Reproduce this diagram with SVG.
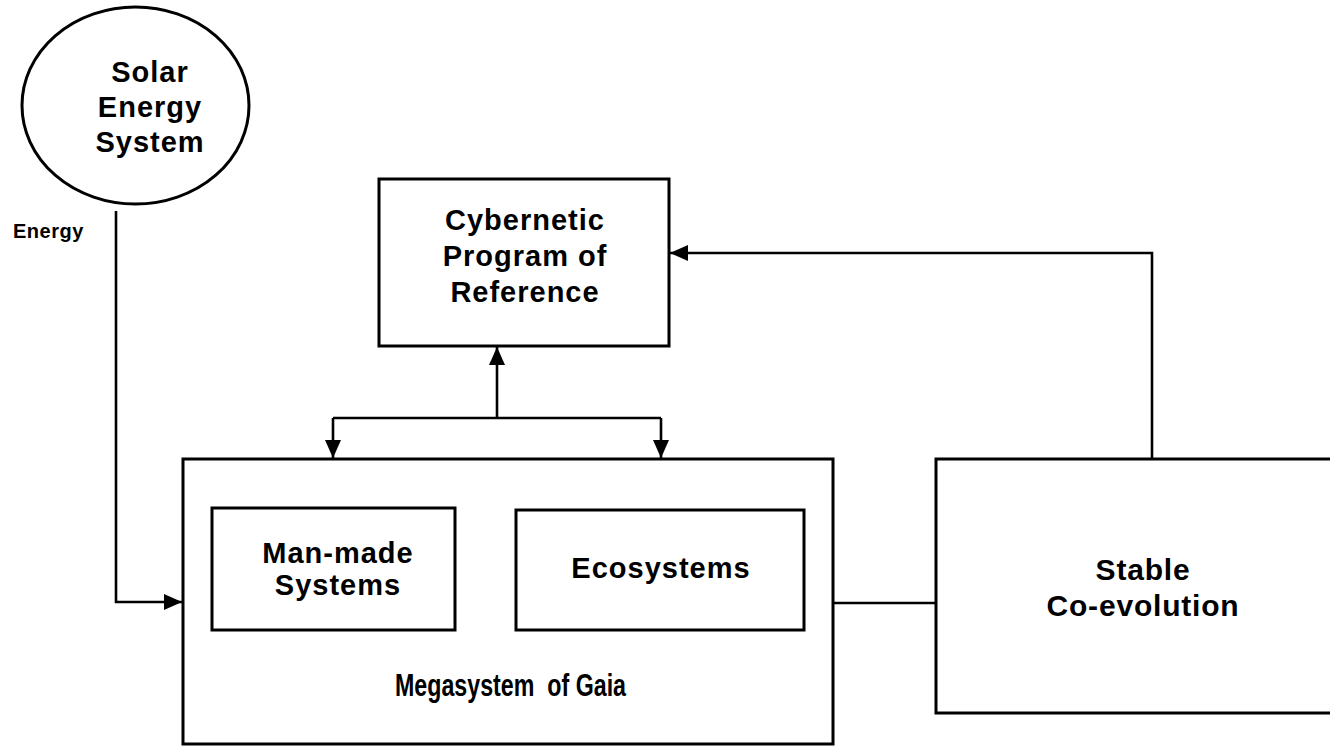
<svg xmlns="http://www.w3.org/2000/svg" width="1330" height="746" viewBox="0 0 1330 746">
  <style>
    .box { fill: #fff; stroke: #000; stroke-width: 3; }
    .wire { fill: none; stroke: #000; stroke-width: 2.6; }
    .lbl { font-family: "Liberation Sans", Arial, sans-serif; font-weight: bold; fill: #000; text-anchor: middle; }
    .big { font-size: 29px; letter-spacing: 1px; }
  </style>
  <defs>
    <marker id="arrow" viewBox="0 0 18 16" refX="18" refY="8" markerWidth="18" markerHeight="16" markerUnits="userSpaceOnUse" orient="auto">
      <path d="M0,0 L18,8 L0,16 Z" fill="#000"/>
    </marker>
  </defs>
  <rect width="1330" height="746" fill="#fff"/>

  <!-- connectors -->
  <g id="connectors">
    <path class="wire" d="M116 211 V602 H182" marker-end="url(#arrow)"/>
    <path class="wire" d="M497 418 V347" marker-end="url(#arrow)"/>
    <path class="wire" d="M333 418 H661"/>
    <path class="wire" d="M333 418 V458" marker-end="url(#arrow)"/>
    <path class="wire" d="M661 418 V458" marker-end="url(#arrow)"/>
    <path class="wire" d="M1152 459 V253 H670" marker-end="url(#arrow)"/>
    <path class="wire" d="M455 569 H516"/>
    <path class="wire" d="M833 603 H936"/>
  </g>

  <!-- Solar Energy System -->
  <g id="solar">
    <ellipse class="box" cx="135.5" cy="105.5" rx="113.5" ry="98.5"/>
    <text class="lbl big" x="150" y="82">Solar</text>
    <text class="lbl big" x="150" y="117">Energy</text>
    <text class="lbl big" x="150" y="152">System</text>
  </g>

  <g id="energy-label">
    <text class="lbl" x="13" y="238" style="text-anchor:start;font-size:20px;letter-spacing:0.5px">Energy</text>
  </g>

  <!-- Cybernetic Program of Reference -->
  <g id="cybernetic">
    <rect class="box" x="379" y="179" width="290" height="167"/>
    <text class="lbl big" x="525" y="230">Cybernetic</text>
    <text class="lbl big" x="525" y="266">Program of</text>
    <text class="lbl big" x="525" y="302">Reference</text>
  </g>

  <!-- Megasystem of Gaia -->
  <g id="megasystem">
    <rect class="box" x="183" y="459" width="650" height="285"/>
    <text class="lbl" x="395" y="696" style="text-anchor:start;font-size:32px;white-space:pre" xml:space="preserve" textLength="231" lengthAdjust="spacingAndGlyphs">Megasystem  of Gaia</text>
  </g>

  <g id="man-made">
    <rect class="box" x="212" y="508" width="243" height="122"/>
    <text class="lbl big" x="338" y="563">Man-made</text>
    <text class="lbl big" x="338" y="595">Systems</text>
  </g>

  <g id="ecosystems">
    <rect class="box" x="516" y="510" width="288" height="120"/>
    <text class="lbl big" x="661" y="578">Ecosystems</text>
  </g>

  <!-- Stable Co-evolution -->
  <g id="stable">
    <rect class="box" x="936" y="459" width="396" height="254"/>
    <text class="lbl" x="1143" y="580" style="font-size:30px;letter-spacing:0.8px">Stable</text>
    <text class="lbl" x="1143" y="616" style="font-size:30px;letter-spacing:0.8px">Co-evolution</text>
  </g>
</svg>
